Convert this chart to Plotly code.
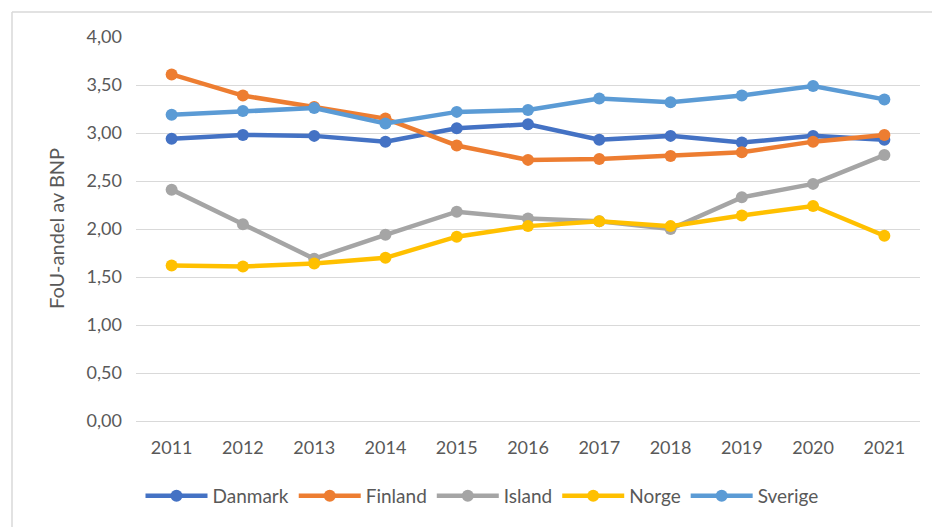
import plotly.graph_objects as go

years = ["2011", "2012", "2013", "2014", "2015", "2016", "2017", "2018", "2019", "2020", "2021"]
danmark = [2.94, 2.98, 2.97, 2.91, 3.05, 3.09, 2.93, 2.97, 2.90, 2.97, 2.93]
finland = [3.61, 3.39, 3.27, 3.15, 2.87, 2.72, 2.73, 2.76, 2.80, 2.91, 2.98]
island = [2.41, 2.05, 1.69, 1.94, 2.18, 2.11, 2.08, 2.00, 2.33, 2.47, 2.77]
norge = [1.62, 1.61, 1.64, 1.70, 1.92, 2.03, 2.08, 2.03, 2.14, 2.24, 1.93]
sverige = [3.19, 3.23, 3.26, 3.10, 3.22, 3.24, 3.36, 3.32, 3.39, 3.49, 3.35]

series = [
    ("Danmark", danmark, "#4472C4"),
    ("Finland", finland, "#ED7D31"),
    ("Island", island, "#A5A5A5"),
    ("Norge", norge, "#FFC000"),
    ("Sverige", sverige, "#5B9BD5"),
]

FONT = "Lato"
GREY = "#595959"
GRID = "#D9D9D9"

# page body has an 8px margin; layout numbers compensate for it
W, H, OFF = 940, 527, 8
L, T, R, B = 136 - OFF, 37 - OFF, 28, 114
PW = W - L - R          # 784
PH = H - T - B          # 384
px0, py0 = L + OFF, T + OFF   # screen position of plot area top-left

fig = go.Figure()
for name, vals, col in series:
    fig.add_trace(go.Scatter(
        x=years, y=vals, name=name, mode="lines+markers",
        line=dict(color=col, width=4.5),
        marker=dict(color=col, size=12),
    ))

fig.update_layout(
    width=W, height=H,
    margin=dict(l=L, r=R, t=T, b=B, autoexpand=False),
    paper_bgcolor="white", plot_bgcolor="white",
    separators=", ",
    font=dict(family=FONT, color=GREY, size=18),
    showlegend=True,
    legend=dict(orientation="h", xref="container", yref="container",
                x=(482 - OFF) / W, xanchor="center", y=1 - (496 - OFF) / H, yanchor="middle",
                font=dict(size=19, color=GREY), itemwidth=62, tracegroupgap=0),
    xaxis=dict(type="category", range=[-0.5, len(years) - 0.5], showgrid=False,
               showline=True, linecolor=GRID,
               linewidth=1, ticks="", tickfont=dict(size=18, color=GREY),
               ticklabelstandoff=10, zeroline=False, automargin=False),
    yaxis=dict(range=[0, 4], dtick=0.5, tickformat=".2f", showgrid=True,
               gridcolor=GRID, gridwidth=1, zeroline=False, showline=False,
               ticks="", tickfont=dict(size=18, color=GREY), ticklabelstandoff=13,
               automargin=False),
    annotations=[dict(text="FoU-andel av BNP", xref="paper", yref="paper",
                      x=(56 - px0) / PW, y=0.5, textangle=-90, showarrow=False,
                      font=dict(size=20, color=GREY), xanchor="center", yanchor="middle")],
    shapes=[
        dict(type="line", xref="paper", yref="paper",
             x0=(12 - px0) / PW, x1=(12 - px0) / PW,
             y0=(py0 + PH - 560) / PH, y1=(py0 + PH - 12) / PH,
             line=dict(color=GRID, width=1.5)),
        dict(type="line", xref="paper", yref="paper",
             x0=(12 - px0) / PW, x1=(980 - px0) / PW,
             y0=(py0 + PH - 12) / PH, y1=(py0 + PH - 12) / PH,
             line=dict(color=GRID, width=1.5)),
    ],
)

fig.write_html("out.html")
